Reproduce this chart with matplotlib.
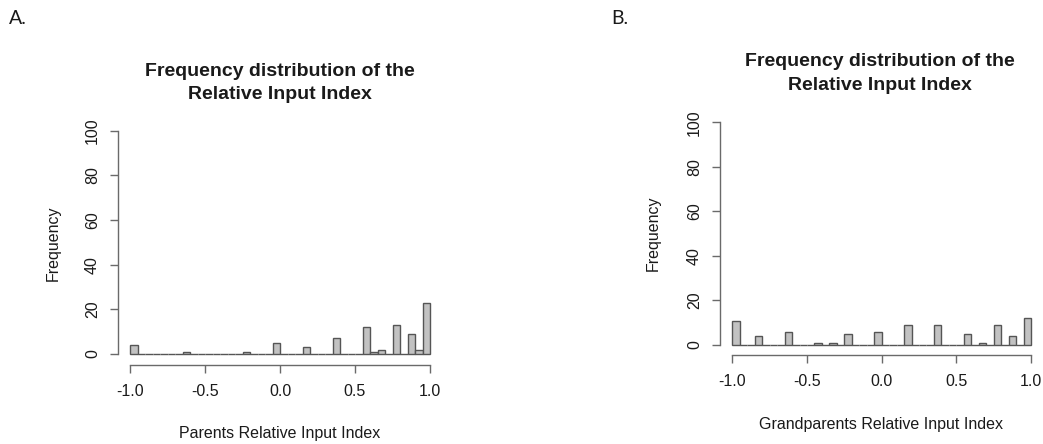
import numpy as np
import matplotlib
matplotlib.use("Agg")
import matplotlib.pyplot as plt

# histogram bins: 40 bins of width 0.05 over [-1, 1]
BIN_WIDTH = 0.05

# non-empty bins (left edge) and their counts
parents_bins = [-1.0, -0.65, -0.25, -0.05, 0.15, 0.35, 0.55, 0.60, 0.65, 0.75, 0.85, 0.90, 0.95]
parents_counts = [4, 1, 1, 5, 3, 7, 12, 1, 2, 13, 9, 2, 23]

grandparents_bins = [-1.0, -0.85, -0.65, -0.45, -0.35, -0.25, -0.05, 0.15, 0.35, 0.55, 0.65, 0.75, 0.85, 0.95]
grandparents_counts = [11, 4, 6, 1, 1, 5, 6, 9, 9, 5, 1, 9, 4, 12]

x_ticks = [-1.0, -0.5, 0.0, 0.5, 1.0]
y_ticks = [0, 20, 40, 60, 80, 100]

plt.rcParams["font.family"] = ["Liberation Sans", "DejaVu Sans"]

W, H = 1043, 444
fig = plt.figure(figsize=(W / 100, H / 100), dpi=100)

FILL = "#c2c2c2"
EDGE = "#555555"
LINE = "#6a6a6a"
TEXT = "#1a1a1a"


def full_counts(bins, counts):
    edges = np.round(np.arange(-1.0, 1.0, BIN_WIDTH), 2)
    out = np.zeros(len(edges))
    for b, c in zip(bins, counts):
        out[np.argmin(np.abs(edges - b))] = c
    return edges, out


def hist_panel(px, bins, counts):
    # px: (x of y-axis line, x of -1, x of 1, y of x-axis line, y of 0, y of 100) in pixels
    yax, xm1, xp1, xax, y0, y100 = px
    sx = (xp1 - xm1) / 2.0
    sy = (y0 - y100) / 100.0
    xlo = -1.0 - (xm1 - yax) / sx
    ymin = -(xax - y0) / sy
    ax = fig.add_axes([yax / W, (H - xax) / H, (xp1 - yax) / W, (xax - y100) / H])
    ax.set_xlim(xlo, 1.0)
    ax.set_ylim(ymin, 100)
    edges, full = full_counts(bins, counts)
    ax.bar(edges, full, width=BIN_WIDTH, align="edge", color=FILL,
           edgecolor=EDGE, linewidth=1.0, zorder=2, clip_on=False)
    for s in ("top", "right"):
        ax.spines[s].set_visible(False)
    ax.spines["left"].set_bounds(0, 100)
    ax.spines["bottom"].set_bounds(-1.0, 1.0)
    for s in ("left", "bottom"):
        ax.spines[s].set_color(LINE)
        ax.spines[s].set_linewidth(1.0)
    ax.set_xticks(x_ticks)
    ax.set_xticklabels([f"{t:.1f}" for t in x_ticks])
    ax.set_yticks(y_ticks)
    ax.set_yticklabels([str(t) for t in y_ticks], rotation=90, va="center")
    ax.tick_params(axis="both", direction="out", length=6, width=1.0,
                   color=LINE, labelsize=11.5, labelcolor=TEXT)
    ax.tick_params(axis="x", pad=8)
    ax.tick_params(axis="y", pad=7)
    ax.patch.set_visible(False)
    return ax


ax_a = hist_panel((118, 130, 430, 365, 354, 130.7), parents_bins, parents_counts)
ax_b = hist_panel((720, 732.3, 1031, 355, 345, 122.3), grandparents_bins, grandparents_counts)


def fig_text(x, y, s, **kw):
    fig.text(x / W, 1 - y / H, s, color=TEXT, **kw)


# titles, two lines each
for cx, y1 in ((280, 71), (880, 62)):
    fig_text(cx, y1, "Frequency distribution of the", ha="center", va="center",
             fontsize=14, fontweight="bold")
    fig_text(cx, y1 + 23, "Relative Input Index", ha="center", va="center",
             fontsize=14, fontweight="bold")

# axis labels
fig_text(280, 433, "Parents Relative Input Index", ha="center", va="center", fontsize=11.5)
fig_text(881, 424, "Grandparents Relative Input Index", ha="center", va="center", fontsize=11.5)
fig_text(53, 243, "Frequency", ha="center", va="center", rotation=90, fontsize=11.5)
fig_text(653, 233, "Frequency", ha="center", va="center", rotation=90, fontsize=11.5)

# panel letters
fig_text(9, 19, "A.", ha="left", va="center", fontsize=14, family=["Lato", "DejaVu Sans"])
fig_text(611, 19, "B.", ha="left", va="center", fontsize=14, family=["Lato", "DejaVu Sans"])

fig.savefig("out.png", dpi=100, facecolor="white")
